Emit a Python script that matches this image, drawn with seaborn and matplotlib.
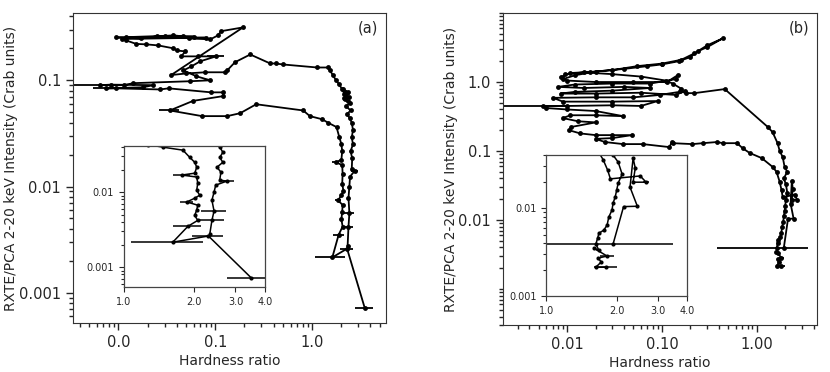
import numpy as np
import pandas as pd
import matplotlib
matplotlib.use("Agg")
import matplotlib.pyplot as plt
import seaborn as sns
from matplotlib.ticker import FixedLocator, NullLocator, NullFormatter, LogLocator

# ---- panel (a): hardness ratio vs intensity, outburst track
hr_a = [2.33, 2.38, 2.43, 2.38, 2.43, 2.47, 2.75, 2.57, 2.60, 2.50, 2.65, 2.57, 2.65, 2.57,
        2.45, 2.30, 2.50, 2.25, 2.45, 2.20, 2.40, 2.15, 2.35, 2.10, 2.30, 2.15, 2.35, 2.05, 1.90,
        1.77, 1.65, 1.53, 1.46, 1.13, 0.50, 0.42, 0.37, 0.23, 0.16, 0.133, 0.127,
        0.079, 0.05, 0.035, 0.194, 0.115, 0.107, 0.089, 0.053, 0.047, 0.037, 0.025, 0.017, 0.0095,
        0.03, 0.06, 0.012, 0.08, 0.011, 0.0121, 0.0153, 0.0194, 0.0258, 0.037, 0.04, 0.049, 0.0446,
        0.067, 0.102, 0.07, 0.0566, 0.047, 0.064, 0.089, 0.055,
        0.0143, 0.0113, 0.0065, 0.0083, 0.023, 0.018, 0.0075, 0.0095, 0.027, 0.033, 0.091, 0.121,
        0.121, 0.059, 0.034, 0.073, 0.133, 0.181, 0.265, 0.81, 0.95, 1.27,
        1.47, 1.79, 1.91, 2.01, 2.05, 2.01, 1.77, 2.05, 2.07, 2.05, 2.11, 2.01, 1.86, 2.07, 2.05,
        2.01, 2.07, 1.88, 1.62, 2.30, 3.5]
int_a = [0.00275, 0.0042, 0.0056, 0.0078, 0.0100, 0.0124, 0.0140, 0.0145, 0.0185, 0.0215, 0.0250,
         0.0290, 0.0340, 0.0400,
         0.044, 0.048, 0.052, 0.057, 0.061, 0.066, 0.070, 0.074, 0.078, 0.082, 0.076, 0.068, 0.064,
         0.082, 0.092,
         0.100, 0.111, 0.124, 0.132, 0.132, 0.141, 0.144, 0.144, 0.175, 0.148, 0.124, 0.119,
         0.119, 0.116, 0.112, 0.315, 0.29, 0.265, 0.243, 0.248, 0.259, 0.265, 0.259, 0.248, 0.253,
         0.262, 0.258, 0.255, 0.252, 0.245, 0.237, 0.22, 0.218, 0.213, 0.20, 0.191, 0.187, 0.168,
         0.168, 0.168, 0.151, 0.135, 0.124, 0.109, 0.100, 0.098,
         0.094, 0.09, 0.09, 0.091, 0.09, 0.086, 0.084, 0.084, 0.082, 0.084, 0.077, 0.077,
         0.071, 0.064, 0.052, 0.046, 0.046, 0.049, 0.0595, 0.052, 0.046, 0.043,
         0.0398, 0.0363, 0.0293, 0.025, 0.0215, 0.0179, 0.0169, 0.0159, 0.0132, 0.0106, 0.0091,
         0.0083, 0.0074, 0.0067, 0.0058, 0.0049, 0.0042, 0.0035, 0.00215, 0.0026, 0.00072]
# points with visible hardness error bars
err_hr_a = [0.0065, 0.0075, 0.034, 0.102, 1.77, 1.86, 1.88, 1.62, 2.30, 2.38, 2.43, 2.75, 3.5]
err_int_a = [0.09, 0.084, 0.052, 0.168, 0.0169, 0.0074, 0.0035, 0.00215, 0.0026, 0.0042, 0.0056,
             0.014, 0.00072]
err_dx_a = [0.003, 0.002, 0.008, 0.02, 0.15, 0.12, 0.25, 0.55, 0.35, 0.3, 0.3, 0.2, 0.75]

# ---- panel (b)
hr_b = [1.80, 1.63, 1.72, 1.66, 1.82, 1.60, 1.68, 1.63, 1.66, 1.68, 1.76, 1.82, 1.85, 1.91, 1.93,
        1.97, 2.0, 2.03, 2.11, 2.03, 1.93, 2.10, 1.97, 1.88, 1.75, 1.66, 1.47, 1.31, 0.46,
        0.22, 0.18, 0.155, 0.16, 0.13, 0.11, 0.06, 0.03, 0.015, 0.0095, 0.009, 0.012, 0.02, 0.04,
        0.07, 0.10, 0.15, 0.20, 0.24, 0.30, 0.44, 0.30, 0.22, 0.16, 0.10, 0.055, 0.03, 0.0175,
        0.0108, 0.0085, 0.010, 0.02, 0.05, 0.113, 0.147, 0.14, 0.075, 0.03, 0.012, 0.008, 0.015,
        0.04, 0.075, 0.03, 0.012, 0.0085, 0.02, 0.06, 0.14, 0.174, 0.095, 0.05, 0.02, 0.0071,
        0.009, 0.03, 0.09, 0.06, 0.03, 0.01, 0.0055, 0.006, 0.01, 0.02, 0.039, 0.02, 0.0108,
        0.009, 0.013, 0.02, 0.011, 0.0105, 0.0137, 0.02, 0.03, 0.048, 0.03, 0.02, 0.025, 0.039,
        0.063, 0.12, 0.127, 0.13, 0.21, 0.27, 0.38, 0.44, 0.62, 0.71, 0.84, 1.13, 1.47, 1.62,
        1.75, 1.83, 1.88, 2.52, 2.67, 2.35, 2.40, 2.35, 2.28, 2.45, 2.14, 1.93]
int_b = [0.00213, 0.00213, 0.00245, 0.0027, 0.00285, 0.0035, 0.0033, 0.0039, 0.0046, 0.0052,
         0.0056, 0.0064, 0.0079, 0.0095, 0.0114, 0.0133, 0.016, 0.0193, 0.0243, 0.0333, 0.040,
         0.050, 0.059, 0.082, 0.10, 0.13, 0.188, 0.223, 0.79,
         0.69, 0.69, 0.74, 0.80, 0.95, 1.05, 1.2, 1.3, 1.38, 1.3, 1.1, 1.25, 1.42, 1.55,
         1.7, 1.8, 2.0, 2.3, 2.8, 3.2, 4.3, 3.4, 2.6, 2.1, 1.85, 1.7, 1.49, 1.4,
         1.35, 1.18, 1.05, 1.0, 1.0, 1.0, 1.26, 1.1, 0.95, 0.95, 0.92, 0.85, 0.82,
         0.85, 0.82, 0.75, 0.72, 0.68, 0.68, 0.70, 0.65, 0.74, 0.65, 0.6, 0.6, 0.59,
         0.52, 0.52, 0.53, 0.45, 0.46, 0.45, 0.45, 0.42, 0.40, 0.38, 0.32, 0.33, 0.33,
         0.30, 0.27, 0.26, 0.223, 0.20, 0.18, 0.17, 0.17, 0.17, 0.154, 0.15, 0.135, 0.126,
         0.126, 0.114, 0.135, 0.13, 0.126, 0.13, 0.135, 0.13, 0.13, 0.11, 0.094, 0.079, 0.059, 0.05,
         0.0356, 0.027, 0.0215, 0.0232, 0.0197, 0.0197, 0.0285, 0.037, 0.0173, 0.0105, 0.0104, 0.0039]
err_hr_b = [0.0055, 1.93, 1.80, 1.82, 2.67]
err_int_b = [0.45, 0.0039, 0.00213, 0.00285, 0.0197]
err_dx_b = [0.0045, 1.55, 0.2, 0.12, 0.08]

df_a = pd.DataFrame({'hr': hr_a, 'flux': int_a})
df_b = pd.DataFrame({'hr': hr_b, 'flux': int_b})

sns.set_style("ticks")
plt.rcParams['font.family'] = ['DejaVu Sans']

fig = plt.figure(figsize=(8.3, 3.72), dpi=100)
ax_a = fig.add_axes([0.088, 0.132, 0.377, 0.833])
ax_b = fig.add_axes([0.606, 0.126, 0.378, 0.839])
in_a = fig.add_axes([0.149, 0.228, 0.170, 0.379])
in_b = fig.add_axes([0.658, 0.204, 0.170, 0.379])


def draw_track(ax, df, ex, ey, edx, ms=3.5, lw=1.3):
    ax.set_xscale('log')
    ax.set_yscale('log')
    sns.lineplot(data=df, x='hr', y='flux', sort=False, estimator=None, color='black',
                 marker='o', markersize=ms, markeredgewidth=0, linewidth=lw, ax=ax)
    ax.errorbar(ex, ey, xerr=edx, fmt='none', ecolor='black', elinewidth=lw)
    ax.set_xlabel('')
    ax.set_ylabel('')
    for s in ax.spines.values():
        s.set_color('#333333')
        s.set_visible(True)


# main panels
draw_track(ax_a, df_a, err_hr_a, err_int_a, err_dx_a)
ax_a.set_xlim(0.0034, 5.8)
ax_a.set_ylim(0.00052, 0.43)
ax_a.set_xticks([0.01, 0.1, 1.0])
ax_a.set_xticklabels(['0.0', '0.1', '1.0'])
ax_a.set_yticks([0.001, 0.01, 0.1])
ax_a.set_yticklabels(['0.001', '0.01', '0.1'])
ax_a.text(0.975, 0.975, '(a)', transform=ax_a.transAxes, ha='right', va='top', fontsize=10.5)

draw_track(ax_b, df_b, err_hr_b, err_int_b, err_dx_b)
ax_b.set_xlim(0.0021, 4.3)
ax_b.set_ylim(0.0003, 10)
ax_b.set_xticks([0.01, 0.1, 1.0])
ax_b.set_xticklabels(['0.01', '0.10', '1.00'])
ax_b.set_yticks([0.01, 0.1, 1.0])
ax_b.set_yticklabels(['0.01', '0.1', '1.0'])
ax_b.text(0.975, 0.975, '(b)', transform=ax_b.transAxes, ha='right', va='top', fontsize=10.5)

for ax in (ax_a, ax_b):
    ax.xaxis.set_minor_locator(LogLocator(base=10, subs=np.arange(2, 10)))
    ax.yaxis.set_minor_locator(LogLocator(base=10, subs=np.arange(1, 10)))
    ax.xaxis.set_minor_formatter(NullFormatter())
    ax.yaxis.set_minor_formatter(NullFormatter())
    ax.tick_params(which='major', length=5, width=1, labelsize=10.5, direction='out')
    ax.tick_params(which='minor', length=3, width=1, direction='out')
    ax.set_xlabel('Hardness ratio', fontsize=10, labelpad=3)
    ax.set_ylabel('RXTE/PCA 2-20 keV Intensity (Crab units)', fontsize=10, labelpad=0.5)

# insets zoom on the hard state
draw_track(in_a, df_a, err_hr_a, err_int_a, err_dx_a, ms=3, lw=1.1)
in_a.set_xlim(1.0, 4.0)
in_a.set_ylim(0.00054, 0.041)
in_a.set_yticks([0.001, 0.01])
in_a.set_yticklabels(['0.001', '0.01'])

draw_track(in_b, df_b, err_hr_b, err_int_b, err_dx_b, ms=3, lw=1.1)
in_b.set_xlim(1.0, 4.0)
in_b.set_ylim(0.001, 0.04)
in_b.set_yticks([0.001, 0.01])
in_b.set_yticklabels(['0.001', '0.01'])

for ax in (in_a, in_b):
    ax.set_facecolor('white')
    ax.xaxis.set_major_locator(FixedLocator([1.0, 2.0, 3.0, 4.0]))
    ax.set_xticklabels(['1.0', '2.0', '3.0', '4.0'])
    ax.xaxis.set_minor_locator(NullLocator())
    ax.yaxis.set_minor_locator(LogLocator(base=10, subs=np.arange(2, 10)))
    ax.yaxis.set_minor_formatter(NullFormatter())
    ax.tick_params(which='major', length=3.5, width=0.8, labelsize=7, direction='out')
    ax.tick_params(which='minor', length=2, width=0.8)
    for s in ax.spines.values():
        s.set_color('#444444')
        s.set_linewidth(0.9)

fig.savefig('out.png', dpi=100)
